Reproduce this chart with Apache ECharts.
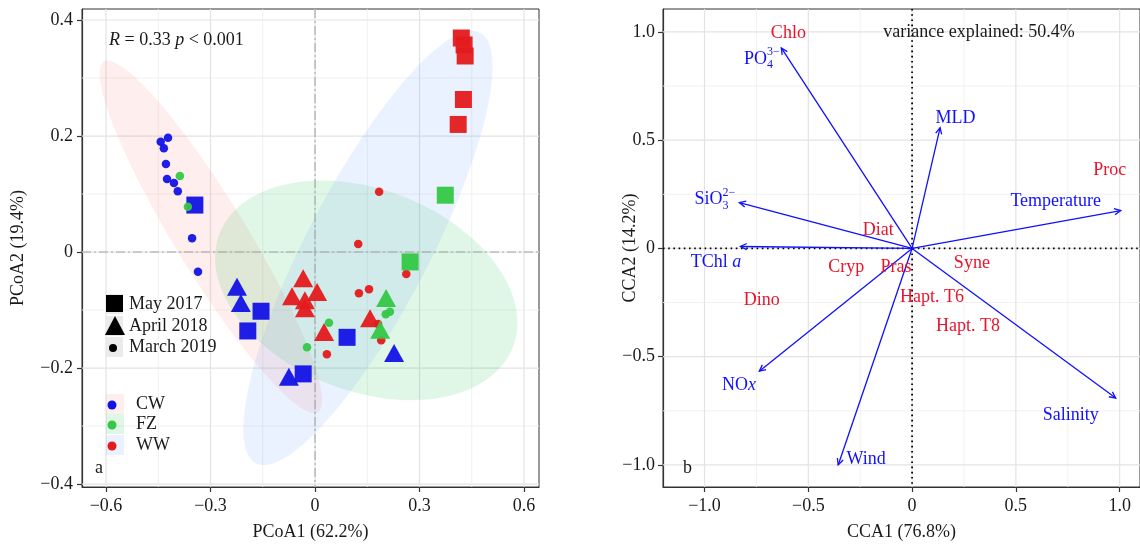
<!DOCTYPE html>
<html>
<head>
<meta charset="utf-8">
<script src="https://cdn.jsdelivr.net/npm/echarts@6/dist/echarts.min.js"></script>
<style>
  html, body { margin: 0; padding: 0; background: #fff; }
  #main { width: 1140px; height: 546px; }
</style>
</head>
<body>
<div id="main"></div>
<script>
// ---------- panel a : PCoA scores (x = PCoA1, y = PCoA2) ----------
var cwMay17 = [[-0.345, 0.081], [-0.155, -0.102], [-0.193, -0.136], [-0.034, -0.210], [0.092, -0.147]];
var fzMay17 = [[0.374, 0.098], [0.273, -0.017]];
var wwMay17 = [[0.420, 0.369], [0.428, 0.357], [0.431, 0.338], [0.426, 0.263], [0.411, 0.220]];
var cwApr18 = [[-0.224, -0.060], [-0.213, -0.088], [-0.075, -0.215], [0.227, -0.174]];
var fzApr18 = [[0.204, -0.079], [0.187, -0.134]];
var wwApr18 = [[-0.034, -0.045], [-0.066, -0.076], [-0.029, -0.083], [-0.029, -0.097], [0.006, -0.069], [0.026, -0.138], [0.158, -0.114]];
var cwMar19 = [[-0.422, 0.197], [-0.443, 0.190], [-0.434, 0.179], [-0.428, 0.152], [-0.425, 0.126], [-0.405, 0.119], [-0.394, 0.105], [-0.353, 0.024], [-0.336, -0.034]];
var fzMar19 = [[-0.388, 0.131], [-0.365, 0.078], [0.040, -0.122], [-0.023, -0.164], [0.203, -0.107], [0.215, -0.103]];
var wwMar19 = [[0.184, 0.104], [0.124, 0.014], [0.126, -0.071], [0.155, -0.064], [0.262, -0.038], [0.181, -0.124], [0.190, -0.152], [0.034, -0.176]];

// confidence ellipses: centre + two conjugate semi-axis vectors
var ellGroups = ['CW', 'FZ', 'WW'];
var ellCx = [-0.299, 0.147, 0.152];
var ellCy = [0.026, -0.066, 0.007];
var ellUx = [-0.307, 0.421, 0.322];
var ellUy = [0.302, -0.098, 0.371];
var ellVx = [0.088, -0.105, 0.156];
var ellVy = [0.032, -0.162, -0.049];

var pcoaTicksX = [-0.6, -0.3, 0, 0.3, 0.6];
var pcoaTicksY = [-0.4, -0.2, 0, 0.2, 0.4];

// ---------- panel b : CCA biplot ----------
var envNames = ['PO4', 'SiO3', 'TChl a', 'MLD', 'Temperature', 'Salinity', 'NOx', 'Wind'];
var envX = [-0.630, -0.832, -0.827, 0.135, 1.005, 0.981, -0.736, -0.356];
var envY = [0.926, 0.212, 0.009, 0.558, 0.175, -0.691, -0.567, -1.000];
var envLabelX = [-0.724, -0.950, -0.945, 0.209, 0.692, 0.764, -0.834, -0.221];
var envLabelY = [0.876, 0.226, -0.065, 0.599, 0.217, -0.770, -0.631, -0.972];

var speciesNames = ['Chlo', 'Proc', 'Diat', 'Cryp', 'Pras', 'Syne', 'Hapt. T6', 'Hapt. T8', 'Dino'];
var speciesX = [-0.596, 0.952, -0.163, -0.317, -0.077, 0.288, 0.096, 0.269, -0.724];
var speciesY = [0.995, 0.359, 0.083, -0.088, -0.088, -0.069, -0.226, -0.359, -0.240];

var ccaTicks = [-1.0, -0.5, 0, 0.5, 1.0];

// ---------- styling ----------
var SERIF = '"Liberation Serif", "Times New Roman", serif';
var BLUE = '#1212e6', GREEN = '#34c846', RED = '#e41a1c';
var ELL_FILL = ['rgba(248,118,109,0.12)', 'rgba(0,186,56,0.12)', 'rgba(97,156,255,0.13)'];
var ENV_BLUE = '#1010ff', SP_RED = '#e8142c';
var TXT = '#1a1a1a';

var envParts = {
  'PO4': { base: 'PO', sub: '4', sup: '3\u2212' },
  'SiO3': { base: 'SiO', sub: '3', sup: '2\u2212' },
  'TChl a': { base: 'TChl ', it: 'a' },
  'NOx': { base: 'NO', it: 'x' }
};

var measureCtx = document.createElement('canvas').getContext('2d');
function textWidth(s, size, italic) {
  measureCtx.font = (italic ? 'italic ' : '') + size + 'px ' + SERIF;
  return measureCtx.measureText(s).width;
}

function fmtTick(v) {
  if (Math.abs(v) < 1e-9) return '0';
  return (v < 0 ? '\u2212' : '') + Math.abs(v).toFixed(1);
}

function mids(ticks) {
  var out = [];
  for (var i = 0; i < ticks.length - 1; i++) out.push((ticks[i] + ticks[i + 1]) / 2);
  return out;
}

function gridRender(tx, ty) {
  var mx = mids(tx), my = mids(ty);
  return function (params, api) {
    var cs = params.coordSys, kids = [];
    function vline(v, major) {
      var p = api.coord([v, 0]);
      kids.push({ type: 'line', shape: { x1: p[0], y1: cs.y, x2: p[0], y2: cs.y + cs.height },
        style: { stroke: major ? '#e3e3e3' : '#efefef', lineWidth: major ? 1.2 : 0.9 } });
    }
    function hline(v, major) {
      var p = api.coord([0, v]);
      kids.push({ type: 'line', shape: { x1: cs.x, y1: p[1], x2: cs.x + cs.width, y2: p[1] },
        style: { stroke: major ? '#e3e3e3' : '#efefef', lineWidth: major ? 1.2 : 0.9 } });
    }
    mx.forEach(function (v) { vline(v, false); });
    my.forEach(function (v) { hline(v, false); });
    tx.forEach(function (v) { vline(v, true); });
    ty.forEach(function (v) { hline(v, true); });
    return { type: 'group', children: kids };
  };
}

function zeroRender(stroke, dash, width) {
  return function (params, api) {
    var cs = params.coordSys, o = api.coord([0, 0]);
    var st = { stroke: stroke, lineWidth: width, lineDash: dash };
    return { type: 'group', children: [
      { type: 'line', shape: { x1: o[0], y1: cs.y, x2: o[0], y2: cs.y + cs.height }, style: st },
      { type: 'line', shape: { x1: cs.x, y1: o[1], x2: cs.x + cs.width, y2: o[1] }, style: st }
    ] };
  };
}

function axisCommon(ticks, name, gap, idx) {
  return {
    type: 'value', gridIndex: idx,
    name: name, nameLocation: 'middle', nameGap: gap, nameMoveOverlap: false,
    nameTextStyle: { fontFamily: SERIF, fontSize: 18, color: TXT },
    splitLine: { show: false },
    axisLine: { show: true, onZero: false, lineStyle: { color: '#333', width: 1.2 } },
    axisTick: { show: true, customValues: ticks, length: 5, lineStyle: { color: '#333', width: 1.2 } },
    axisLabel: { customValues: ticks, formatter: fmtTick, fontFamily: SERIF, fontSize: 18, color: TXT, margin: 10 }
  };
}

var scatterDefs = [
  [cwMay17, BLUE, 'rect', 17], [fzMay17, GREEN, 'rect', 17], [wwMay17, RED, 'rect', 17],
  [cwApr18, BLUE, 'triangle', [20, 18]], [fzApr18, GREEN, 'triangle', [20, 18]], [wwApr18, RED, 'triangle', [20, 18]],
  [cwMar19, BLUE, 'circle', 8.5], [fzMar19, GREEN, 'circle', 8.5], [wwMar19, RED, 'circle', 8.5]
];

var series = [
  { type: 'custom', xAxisIndex: 0, yAxisIndex: 0, z: 1, silent: true, data: [[0, 0]], renderItem: gridRender(pcoaTicksX, pcoaTicksY) },
  {
    type: 'custom', xAxisIndex: 0, yAxisIndex: 0, z: 2, silent: true,
    data: ellGroups.map(function (g, i) { return [ellCx[i], ellCy[i], i]; }),
    renderItem: function (params, api) {
      var i = api.value(2), pts = [];
      for (var k = 0; k < 120; k++) {
        var t = 2 * Math.PI * k / 120;
        pts.push(api.coord([
          ellCx[i] + ellUx[i] * Math.cos(t) + ellVx[i] * Math.sin(t),
          ellCy[i] + ellUy[i] * Math.cos(t) + ellVy[i] * Math.sin(t)
        ]));
      }
      return { type: 'polygon', shape: { points: pts }, style: { fill: ELL_FILL[i], stroke: null } };
    }
  },
  { type: 'custom', xAxisIndex: 0, yAxisIndex: 0, z: 3, silent: true, data: [[0, 0]], renderItem: zeroRender('#a6a6a6', [9, 3, 2, 3], 1.1) }
];

scatterDefs.forEach(function (d, i) {
  series.push({
    type: 'scatter', xAxisIndex: 0, yAxisIndex: 0, z: 5 + (i % 3 === 2 ? 0 : 1),
    data: d[0], symbol: d[2], symbolSize: d[3],
    itemStyle: { color: d[1], opacity: 0.95 }, silent: true
  });
});

// right panel
series.push(
  { type: 'custom', xAxisIndex: 1, yAxisIndex: 1, z: 1, silent: true, data: [[0, 0]], renderItem: gridRender(ccaTicks, ccaTicks) },
  { type: 'custom', xAxisIndex: 1, yAxisIndex: 1, z: 3, silent: true, data: [[0, 0]], renderItem: zeroRender('#000', [1.6, 3.6], 1.8) },
  {
    type: 'custom', xAxisIndex: 1, yAxisIndex: 1, z: 4, silent: true,
    data: envNames.map(function (n, i) { return [envX[i], envY[i]]; }),
    renderItem: function (params, api) {
      var o = api.coord([0, 0]), p = api.coord([api.value(0), api.value(1)]);
      var a = Math.atan2(p[1] - o[1], p[0] - o[0]), L = 7, h = Math.PI / 7;
      var st = { stroke: ENV_BLUE, lineWidth: 1.3, fill: null };
      return { type: 'group', children: [
        { type: 'line', shape: { x1: o[0], y1: o[1], x2: p[0], y2: p[1] }, style: st },
        { type: 'polyline', shape: { points: [
          [p[0] - L * Math.cos(a - h), p[1] - L * Math.sin(a - h)], p,
          [p[0] - L * Math.cos(a + h), p[1] - L * Math.sin(a + h)] ] }, style: st }
      ] };
    }
  },
  {
    type: 'custom', xAxisIndex: 1, yAxisIndex: 1, z: 5, silent: true,
    data: envNames.map(function (n, i) { return [envLabelX[i], envLabelY[i], i]; }),
    renderItem: function (params, api) {
      var i = api.value(2), name = envNames[i];
      var c = api.coord([api.value(0), api.value(1)]);
      var parts = envParts[name] || { base: name };
      var wb = textWidth(parts.base, 18, false);
      var wi = parts.it ? textWidth(parts.it, 18, true) : 0;
      var ws = parts.sub ? Math.max(textWidth(parts.sub, 12, false), textWidth(parts.sup, 12, false)) : 0;
      var x0 = c[0] - (wb + wi + ws) / 2, kids = [];
      function t(s, x, y, size, italic) {
        kids.push({ type: 'text', x: x, y: y, style: { text: s, fill: ENV_BLUE, fontSize: size,
          fontFamily: SERIF, fontStyle: italic ? 'italic' : 'normal', align: 'left', verticalAlign: 'middle' } });
      }
      t(parts.base, x0, c[1], 18, false);
      if (parts.it) t(parts.it, x0 + wb, c[1], 18, true);
      if (parts.sub) {
        t(parts.sub, x0 + wb, c[1] + 6, 12, false);
        t(parts.sup, x0 + wb, c[1] - 7, 12, false);
      }
      return { type: 'group', children: kids };
    }
  },
  {
    type: 'custom', xAxisIndex: 1, yAxisIndex: 1, z: 5, silent: true,
    data: speciesNames.map(function (n, i) { return [speciesX[i], speciesY[i], i]; }),
    renderItem: function (params, api) {
      var c = api.coord([api.value(0), api.value(1)]);
      return { type: 'text', x: c[0], y: c[1], style: { text: speciesNames[api.value(2)], fill: SP_RED,
        fontSize: 18, fontFamily: SERIF, align: 'center', verticalAlign: 'middle' } };
    }
  }
);

// legend / annotations (panel furniture)
var txt = function (s, x, y, extra) {
  var st = { text: s, fill: TXT, fontSize: 18, fontFamily: SERIF, align: 'left', verticalAlign: 'middle' };
  for (var k in extra) st[k] = extra[k];
  return { type: 'text', x: x, y: y, z: 20, style: st };
};
var graphics = [
  txt('{i|R}{n| = 0.33 }{i|p}{n| < 0.001}', 109, 40, { rich: {
    i: { fontStyle: 'italic', fontSize: 18, fontFamily: SERIF, fill: TXT },
    n: { fontSize: 18, fontFamily: SERIF, fill: TXT } } }),
  txt('variance explained: 50.4%', 979, 32, { align: 'center' }),
  txt('a', 95, 468, {}),
  txt('b', 683, 468, {})
];
var yearLabels = ['May 2017', 'April 2018', 'March 2019'];
var yearY = [304, 326, 347];
yearY.forEach(function (y, i) {
  graphics.push({ type: 'rect', z: 19, shape: { x: 105, y: y - 10, width: 18, height: 20 }, style: { fill: '#ebebeb' } });
  graphics.push(txt(yearLabels[i], 129, y, {}));
});
graphics.push(
  { type: 'rect', z: 20, shape: { x: 106, y: 295, width: 17, height: 17 }, style: { fill: '#000' } },
  { type: 'polygon', z: 20, shape: { points: [[115, 316], [125, 335], [105, 335]] }, style: { fill: '#000' } },
  { type: 'circle', z: 20, shape: { cx: 113, cy: 348, r: 4 }, style: { fill: '#000' } }
);
var groupY = [404, 424, 445];
var groupCol = [BLUE, GREEN, RED];
ellGroups.forEach(function (g, i) {
  graphics.push({ type: 'rect', z: 19, shape: { x: 106, y: groupY[i] - 10, width: 18, height: 20 }, style: { fill: ELL_FILL[i] } });
  graphics.push({ type: 'circle', z: 20, shape: { cx: 112, cy: groupY[i] + 1, r: 4.5 }, style: { fill: groupCol[i] } });
  graphics.push(txt(g, 136, groupY[i], {}));
});

var xA = axisCommon(pcoaTicksX, 'PCoA1 (62.2%)', 36, 0); xA.min = -0.669; xA.max = 0.643;
var yA = axisCommon(pcoaTicksY, 'PCoA2 (19.4%)', 55, 0); yA.min = -0.405; yA.max = 0.419; yA.axisLabel.margin = 9;
var xB = axisCommon(ccaTicks, 'CCA1 (76.8%)', 36, 1); xB.min = -1.2; xB.max = 1.098;
var yB = axisCommon(ccaTicks, 'CCA2 (14.2%)', 24, 1); yB.min = -1.102; yB.max = 1.106; yB.axisLabel.margin = 8;

var chart = echarts.init(document.getElementById('main'), null, { renderer: 'canvas' });
chart.setOption({
  animation: false,
  backgroundColor: '#fff',
  grid: [
    { left: 82, top: 9, width: 457, height: 478, show: true, backgroundColor: '#fff', borderColor: '#333', borderWidth: 1 },
    { left: 663, top: 9, width: 478, height: 478, show: true, backgroundColor: '#fff', borderColor: '#333', borderWidth: 1 }
  ],
  xAxis: [xA, xB],
  yAxis: [yA, yB],
  series: series,
  graphic: graphics
});
</script>
</body>
</html>
